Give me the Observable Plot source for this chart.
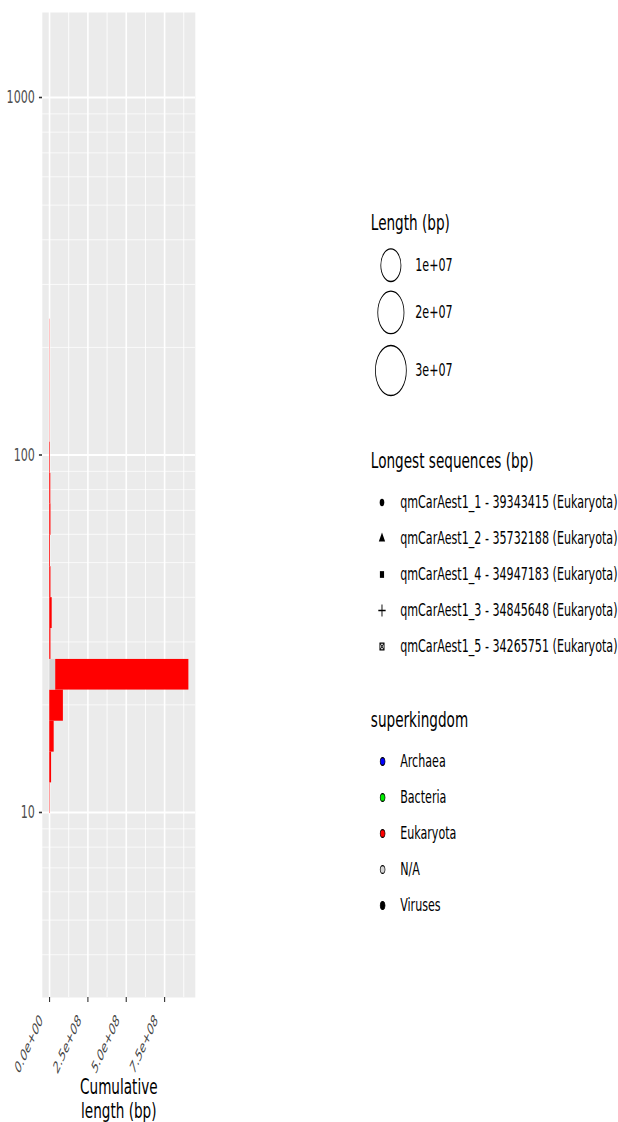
<!DOCTYPE html>
<html><head><meta charset="utf-8">
<script src="https://cdn.jsdelivr.net/npm/d3@7"></script>
<script src="https://cdn.jsdelivr.net/npm/@observablehq/plot@0.6"></script>
<style>
html,body{margin:0;padding:0;background:#fff;overflow:hidden}
#stage{position:absolute;left:0;top:0;width:1000px;height:1122px;transform:scaleX(0.618);transform-origin:0 0;font-family:"DejaVu Sans",sans-serif}
#stage svg{position:absolute;left:0;top:0}
.ttl{position:absolute;left:600px;font-size:22px;line-height:1;color:#000;white-space:nowrap}
</style></head><body><div id="stage"></div>
<script>
// ---- data (coverage bins on a log scale, cumulative length per superkingdom) ----
const coverageLow  = [9.93, 12.1, 14.75, 18.0, 22.0, 26.8, 32.7, 39.9, 48.7, 59.6, 73.0, 88.9, 108.6, 132.4, 161.4, 196.8];
const coverageHigh = [12.1, 14.75, 18.0, 22.0, 26.8, 32.7, 39.9, 48.7, 59.6, 73.0, 88.9, 108.6, 132.4, 161.4, 196.8, 239.9];
const naLength        = [0, 0, 0, 0, 3.9e7, 0, 0, 0, 0, 0, 0, 0, 0, 0, 0, 0];
const eukaryotaLength = [2.5e6, 1.2e7, 2.9e7, 8.9e7, 8.68e8, 8e6, 1.6e7, 8e6, 5e6, 8e6, 7e6, 4e6, 1.5e6, 1.5e6, 1.5e6, 1.5e6];

const kingdoms      = ["Archaea", "Bacteria", "Eukaryota", "N/A", "Viruses"];
const kingdomColors = ["#0000FF", "#00EE00", "#FF0000", "#D3D3D3", "#000000"];

const yTicks      = [10, 100, 1000];
const yMinorGrid  = [4, 5, 6, 7, 8, 9, 20, 30, 40, 50, 60, 70, 80, 90, 200, 300, 400, 500, 600, 700, 800, 900];
const xTicks      = [0, 2.5e8, 5e8, 7.5e8];
const xTickLabels = ["0.0e+00", "2.5e+08", "5.0e+08", "7.5e+08"];
const xMinorGrid  = [1.25e8, 3.75e8, 6.25e8, 8.75e8];
const xAxisTitle  = "Cumulative\nlength (bp)";

const sizeBreaks = [1e7, 2e7, 3e7];
const sizeLabels = ["1e+07", "2e+07", "3e+07"];

const longestNames  = ["qmCarAest1_1 - 39343415 (Eukaryota)", "qmCarAest1_2 - 35732188 (Eukaryota)",
                       "qmCarAest1_4 - 34947183 (Eukaryota)", "qmCarAest1_3 - 34845648 (Eukaryota)",
                       "qmCarAest1_5 - 34265751 (Eukaryota)"];
const longestShapes = ["circle", "triangle", "square", "plus", "square cross"];

// ---- build table ----
const bars = [];
coverageLow.forEach((lo, i) => {
  if (naLength[i] > 0) bars.push({lo, hi: coverageHigh[i], kingdom: "N/A", length: naLength[i]});
  if (eukaryotaLength[i] > 0) bars.push({lo, hi: coverageHigh[i], kingdom: "Eukaryota", length: eukaryotaLength[i]});
});

const stage = document.getElementById("stage");
const FONT = "DejaVu Sans";
const baseStyle = {background: "transparent", fontFamily: FONT, overflow: "visible", maxWidth: "none"};

// ---- main panel ----
const main = Plot.plot({
  width: 330, height: 1122,
  marginLeft: 68, marginRight: 14.5, marginTop: 12, marginBottom: 125,
  style: baseStyle,
  x: {domain: [-0.47e8, 9.5e8]},
  y: {type: "log", domain: [3.037, 1729]},
  color: {domain: kingdoms, range: kingdomColors},
  marks: [
    Plot.frame({fill: "#EBEBEB", stroke: null}),
    Plot.ruleY(yMinorGrid, {stroke: "white", strokeWidth: 0.9}),
    Plot.ruleX(xMinorGrid, {stroke: "white", strokeWidth: 1.4}),
    Plot.ruleY(yTicks, {stroke: "white", strokeWidth: 1.8}),
    Plot.ruleX(xTicks, {stroke: "white", strokeWidth: 2.6}),
    Plot.rectX(bars, {y1: "lo", y2: "hi", x: "length", fill: "kingdom"}),
    Plot.axisY({ticks: yTicks, tickFormat: d => String(d), tickSize: 5, tickPadding: 7,
                stroke: "#333333", fill: "#4D4D4D", strokeWidth: 1.6, fontSize: 18, label: null}),
    // x tick marks
    Plot.axisX({ticks: xTicks, tickFormat: () => "", tickSize: 5, stroke: "#333333", strokeWidth: 1.8, label: null}),
    // x tick labels (rotated)
    Plot.axisX({ticks: xTicks, tickFormat: d => xTickLabels[xTicks.indexOf(d)], tickRotate: -54,
                textAnchor: "end", lineAnchor: "top",
                tickSize: 0, tickPadding: 0, dx: -18.5, dy: 16, fill: "#454545",
                fontSize: 15.5, fontStyle: "italic", label: null}),
    Plot.text([xAxisTitle], {frameAnchor: "bottom", dy: 79, lineAnchor: "top", lineHeight: 1.1,
                             fontSize: 22, fill: "black"})
  ]
});
stage.appendChild(main);

// ---- legends ----
function legend(marks, y, left) {
  return Plot.plot({
    width: 1000, height: 1122, marginLeft: left, marginRight: 0, marginTop: 0, marginBottom: 0,
    style: baseStyle, y: {...y, axis: null}, marks
  });
}

// Length (bp)
const sizeItems = sizeBreaks.map((v, i) => ({v, label: sizeLabels[i]}));
const sizeLegend = Plot.plot({
  width: 1000, height: 1122, marginLeft: 632, marginRight: 0, marginTop: 0, marginBottom: 0,
  style: baseStyle,
  y: {type: "pow", exponent: 1.4, domain: [1e7, 3e7], range: [264.7, 370], axis: null},
  r: {type: "sqrt", domain: [1e7, 3e7], range: [16.3, 25]},
  marks: [
    Plot.dot(sizeItems, {y: "v", r: "v", frameAnchor: "left", fill: "none", stroke: "black", strokeWidth: 1.3}),
    Plot.text(sizeItems, {y: "v", text: "label", frameAnchor: "left", dx: 39.5, textAnchor: "start", fontSize: 18, fill: "black"})
  ]
});
stage.appendChild(sizeLegend);

// Longest sequences (bp)
const seqItems = longestNames.map((name, i) => ({name, shape: longestShapes[i]}));
const seqY = {type: "point", domain: longestNames, range: [500.5, 647.5], padding: 0};
const seqLegend = legend([
  Plot.dot(seqItems.filter(d => d.shape === "circle"), {y: "name", symbol: "circle", r: 3.7, fill: "black", stroke: null, frameAnchor: "left"}),
  Plot.dot(seqItems.filter(d => d.shape === "triangle"), {y: "name", symbol: "triangle", r: 3.8, fill: "black", stroke: null, frameAnchor: "left"}),
  Plot.dot(seqItems.filter(d => d.shape === "square"), {y: "name", symbol: "square", r: 3.8, fill: "black", stroke: null, frameAnchor: "left"}),
  Plot.dot(seqItems.filter(d => d.shape === "plus"), {y: "name", symbol: "plus", r: 3.9, fill: "none", stroke: "black", strokeWidth: 1.5, frameAnchor: "left"}),
  Plot.dot(seqItems.filter(d => d.shape === "square cross"), {y: "name", symbol: "square2", r: 4.3, fill: "none", stroke: "black", strokeWidth: 1.4, frameAnchor: "left"}),
  Plot.dot(seqItems.filter(d => d.shape === "square cross"), {y: "name", symbol: "times", r: 3.0, fill: "none", stroke: "black", strokeWidth: 1.2, frameAnchor: "left"}),
  Plot.text(seqItems, {y: "name", text: "name", frameAnchor: "left", dx: 29.5, textAnchor: "start", fontSize: 18, fill: "black"})
], seqY, 617.6);
stage.appendChild(seqLegend);

// superkingdom
const kItems = kingdoms.map((k, i) => ({k, color: kingdomColors[i]}));
const kLegend = legend([
  Plot.dot(kItems, {y: "k", r: 3.9, fill: "color", stroke: "black", strokeWidth: 1.1, frameAnchor: "left"}),
  Plot.text(kItems, {y: "k", text: "k", frameAnchor: "left", dx: 28.4, textAnchor: "start", fontSize: 18, fill: "black"})
], {type: "point", domain: kingdoms, range: [761, 905.7], padding: 0}, 618.6);
stage.appendChild(kLegend);

// legend titles
[["Length (bp)", 211.5], ["Longest sequences (bp)", 449.5], ["superkingdom", 709]].forEach(([t, top]) => {
  const d = document.createElement("div");
  d.className = "ttl"; d.textContent = t; d.style.top = top + "px";
  stage.appendChild(d);
});
</script></body></html>
